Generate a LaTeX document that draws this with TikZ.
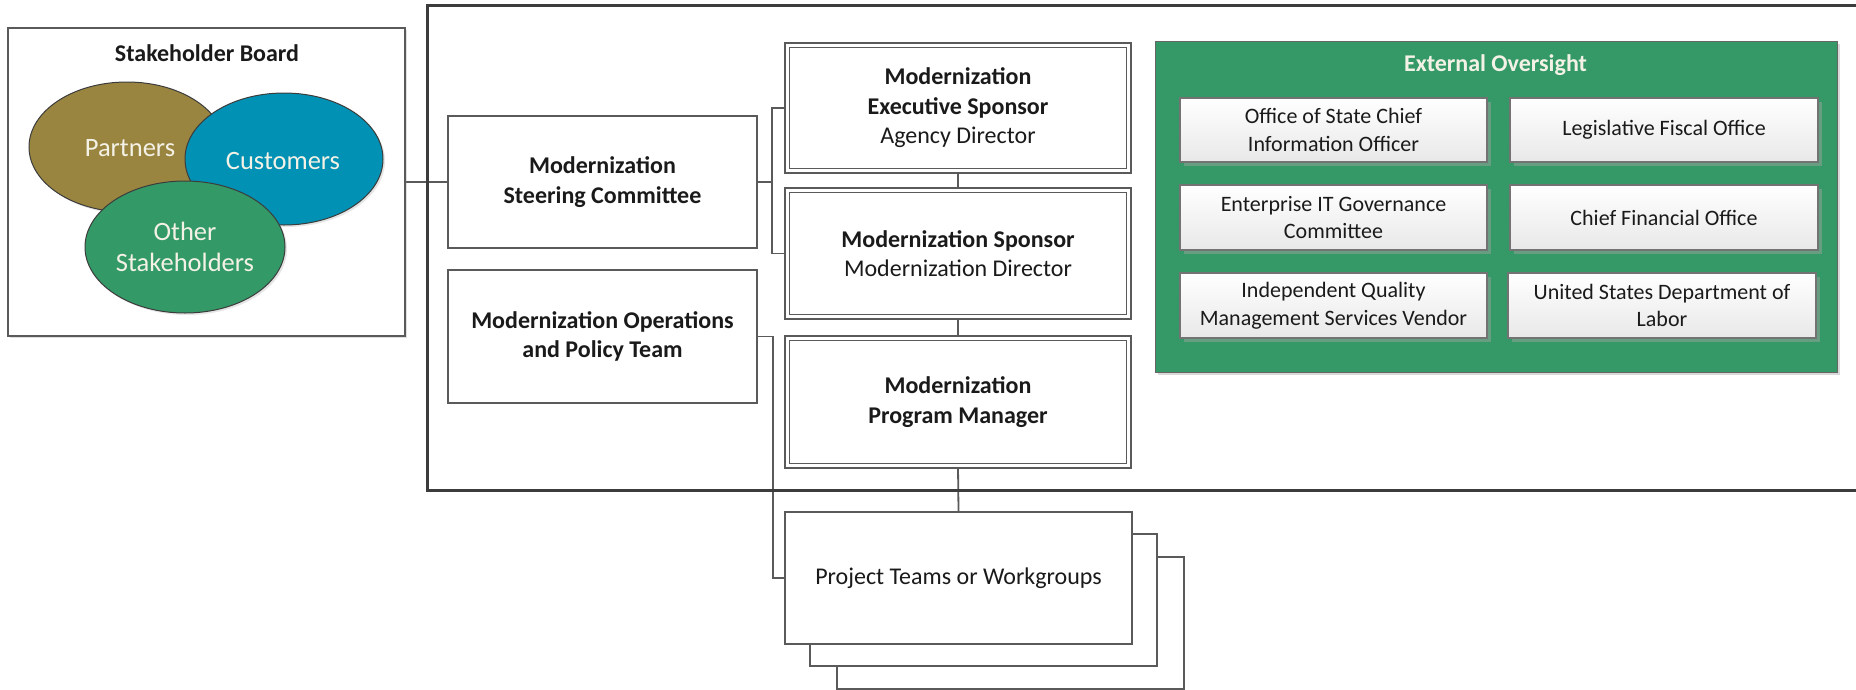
\documentclass[tikz,border=0pt]{standalone}
\usepackage{fontspec}
\setmainfont{Carlito}
\usetikzlibrary{shapes.geometric,shadows,backgrounds}

\definecolor{linec}{HTML}{5A5A5A}
\definecolor{framec}{HTML}{3C3C3C}
\definecolor{partnerc}{HTML}{9A8540}
\definecolor{customerc}{HTML}{0091B4}
\definecolor{otherc}{HTML}{339966}
\definecolor{oversightc}{HTML}{349966}
\definecolor{lighttext}{HTML}{F4F2E6}
\definecolor{darktext}{HTML}{1A1A1A}

\begin{document}
\begin{tikzpicture}[x=1pt,y=-1pt,
  orgbox/.style={draw=linec, line width=1.8pt, fill=white, align=center,
    inner sep=0pt, text=darktext, font=\fontsize{24}{29.5}\selectfont},
  dblbox/.style={orgbox, line width=1.6pt, double=white, double distance=3pt,
    minimum width=341.8pt},
  stakeellipse/.style={ellipse, draw=framec, line width=1pt, inner sep=0pt,
    text=lighttext, align=center, font=\fontsize{26.5}{31}\selectfont,
    drop shadow={shadow xshift=2pt, shadow yshift=-2pt, opacity=0.2}},
  obox/.style={draw=black!55, line width=1.2pt, top color=white, bottom color=black!9,
    align=center, inner sep=0pt, text=darktext,
    font=\fontsize{22}{27.5}\selectfont,
    drop shadow={shadow xshift=4pt, shadow yshift=-4pt, fill=black!35, opacity=0.45}},
  conn/.style={draw=linec, line width=1.8pt}
]
\useasboundingbox (0,0) rectangle (1856,689);

% Stakeholder board with its three overlapping groups
\node[draw=linec, line width=1.5pt, fill=white, minimum width=397pt, minimum height=308pt,
  drop shadow={shadow xshift=2pt, shadow yshift=-2pt, opacity=0.25}]
  (board) at (206.5,182) {};
\node[font=\bfseries\fontsize{24}{29}\selectfont, text=darktext] (boardtitle) at (207,53) {Stakeholder Board};
\node[stakeellipse, fill=partnerc, minimum width=196pt, minimum height=130pt] (partners) at (127,147) {};
\node[text=lighttext, font=\fontsize{26.5}{31}\selectfont] (partnerslbl) at (130,148) {Partners};
\node[stakeellipse, fill=customerc, minimum width=198pt, minimum height=132pt] (customers) at (284,159) {};
\node[text=lighttext, font=\fontsize{26.5}{31}\selectfont] (customerslbl) at (283,161) {Customers};
\node[stakeellipse, fill=otherc, minimum width=200pt, minimum height=132pt] (others) at (185,247) {Other\\Stakeholders};

% Governance frame, open on the right
\draw[framec, line width=3pt] (1870,5) -- (427,5) -- (427,490) -- (1870,490);

% Left column
\node[orgbox, minimum width=309pt, minimum height=132pt] (steer) at (602.5,182)
  {\bfseries Modernization\\\bfseries Steering Committee};
\node[orgbox, minimum width=309pt, minimum height=133pt] (ops) at (602.5,336.5)
  {\bfseries Modernization Operations\\\bfseries and Policy Team};

% Sponsor chain
\node[dblbox, minimum height=125.8pt] (exec) at (958,108)
  {\bfseries Modernization\\\bfseries Executive Sponsor\\Agency Director};
\node[dblbox, minimum height=126.8pt] (sponsor) at (958,253.5)
  {\bfseries Modernization Sponsor\\Modernization Director};
\node[dblbox, minimum height=127.8pt] (pm) at (958,402)
  {\bfseries Modernization\\\bfseries Program Manager};

% Stack of project teams
\node[orgbox, minimum width=347pt, minimum height=132pt] (proj3) at (1010.5,623) {};
\node[orgbox, minimum width=347pt, minimum height=132pt] (proj2) at (983.5,600) {};
\node[orgbox, minimum width=347pt, minimum height=132pt] (proj) at (958.5,578)
  {Project Teams or Workgroups};

% External oversight panel
\node[draw=black!60, line width=1pt, fill=oversightc, minimum width=682pt, minimum height=331pt,
  drop shadow={shadow xshift=3pt, shadow yshift=-3pt, opacity=0.3}]
  (oversight) at (1496,206.5) {};
\node[text=lighttext, font=\bfseries\fontsize{24}{29}\selectfont] (oversighttitle) at (1495.5,65) {External Oversight};
\node[obox, minimum width=307pt, minimum height=64pt] (ocio) at (1333.5,130) {Office of State Chief\\Information Officer};
\node[obox, minimum width=308pt, minimum height=64pt] (lfo) at (1664,130) {Legislative Fiscal Office};
\node[obox, minimum width=307pt, minimum height=65pt] (eitgc) at (1333.5,217.5) {Enterprise IT Governance\\Committee};
\node[obox, minimum width=308pt, minimum height=65pt] (cfo) at (1664,217.5) {Chief Financial Office};
\node[obox, minimum width=307pt, minimum height=65pt] (iqms) at (1333.5,305.5) {Independent Quality\\Management Services Vendor};
\node[obox, minimum width=308pt, minimum height=65pt] (dol) at (1662,305.5) {United States Department of\\Labor};

% Connectors, kept behind the boxes
\begin{scope}[on background layer]
  \coordinate (bkt) at (772,182);
  \draw[conn] (board.east) -- (steer.west);
  \draw[conn] (steer.east) -- (bkt);
  \draw[conn] (exec.west) -| (bkt) |- (sponsor.west);
  \draw[conn] (ops.east) -- ++(15,0) |- (proj.west);
  \draw[conn] (exec.south) -- (sponsor.north);
  \draw[conn] (sponsor.south) -- (pm.north);
  \draw[conn] (pm.south) -- (proj.north);
\end{scope}
\end{tikzpicture}
\end{document}
